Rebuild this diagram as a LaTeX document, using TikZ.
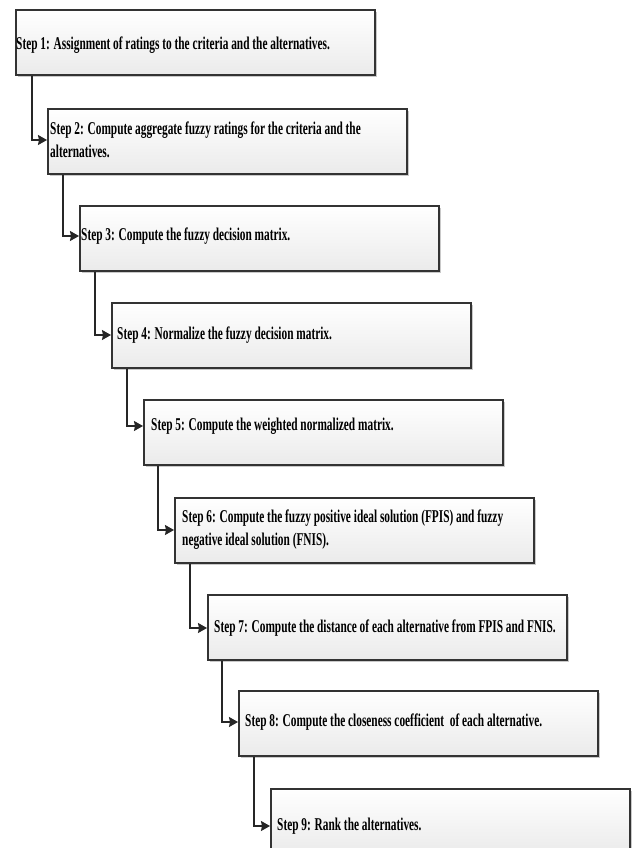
\documentclass[tikz,border=0pt]{standalone}
\usepackage{fontspec}
\newfontfamily\stepfont[FakeStretch=0.63]{Liberation Serif}
\usetikzlibrary{arrows.meta,shadows}
\begin{document}
\begin{tikzpicture}[x=1pt,y=-1pt,
  stepbox/.style={draw=black!80, line width=1.6pt, top color=white, bottom color=black!8,
    minimum width=359pt, minimum height=65pt, anchor=north west, inner sep=0pt,
    drop shadow={shadow xshift=2pt, shadow yshift=-2pt, fill=black!35, opacity=0.6}},
  steptext/.style={anchor=west, inner sep=0pt, align=left,
    font=\stepfont\bfseries\fontsize{18}{23}\selectfont},
  link/.style={line width=1.2pt, draw=black!85, -{Stealth[length=9pt,width=10pt,inset=1pt]}}
]
\useasboundingbox (0,0) rectangle (633,848);
\fill[white] (0,0) rectangle (633,848);

\node[stepbox] (b1) at (15,9) {};
\node[stepbox] (b2) at (47,108) {};
\node[stepbox] (b3) at (79,205) {};
\node[stepbox] (b4) at (111,302) {};
\node[stepbox] (b5) at (143,399) {};
\node[stepbox] (b6) at (174,497) {};
\node[stepbox] (b7) at (207,594) {};
\node[stepbox] (b8) at (238,690) {};
\node[stepbox] (b9) at (270,788) {};

\node[steptext] (t1) at (16,45) {Step 1: Assignment of ratings to the criteria and the alternatives.};
\node[steptext] (t2) at (50,140) {Step 2: Compute aggregate fuzzy ratings for the criteria and the\\alternatives.};
\node[steptext] (t3) at (81,236) {Step 3: Compute the fuzzy decision matrix.};
\node[steptext] (t4) at (117,335) {Step 4: Normalize the fuzzy decision matrix.};
\node[steptext] (t5) at (151,426) {Step 5: Compute the weighted normalized matrix.};
\node[steptext] (t6) at (182,530) {Step 6: Compute the fuzzy positive ideal solution (FPIS) and fuzzy\\negative ideal solution (FNIS).};
\node[steptext] (t7) at (214,628) {Step 7: Compute the distance of each alternative from FPIS and FNIS.};
\node[steptext] (t8) at (245,722) {Step 8: Compute the closeness coefficient\ \ of each alternative.};
\node[steptext] (t9) at (277,826) {Step 9: Rank the alternatives.};

\draw[link] ([xshift=17pt]b1.south west) |- (b2.west |- t2.west);
\draw[link] ([xshift=16pt]b2.south west) |- (b3.west |- t3.west);
\draw[link] ([xshift=16pt]b3.south west) |- (b4.west |- t4.west);
\draw[link] ([xshift=16pt]b4.south west) |- (b5.west |- t5.west);
\draw[link] ([xshift=15pt]b5.south west) |- (b6.west |- t6.west);
\draw[link] ([xshift=16pt]b6.south west) |- (b7.west |- t7.west);
\draw[link] ([xshift=15pt]b7.south west) |- (b8.west |- t8.west);
\draw[link] ([xshift=16pt]b8.south west) |- (b9.west |- t9.west);
\end{tikzpicture}
\end{document}
